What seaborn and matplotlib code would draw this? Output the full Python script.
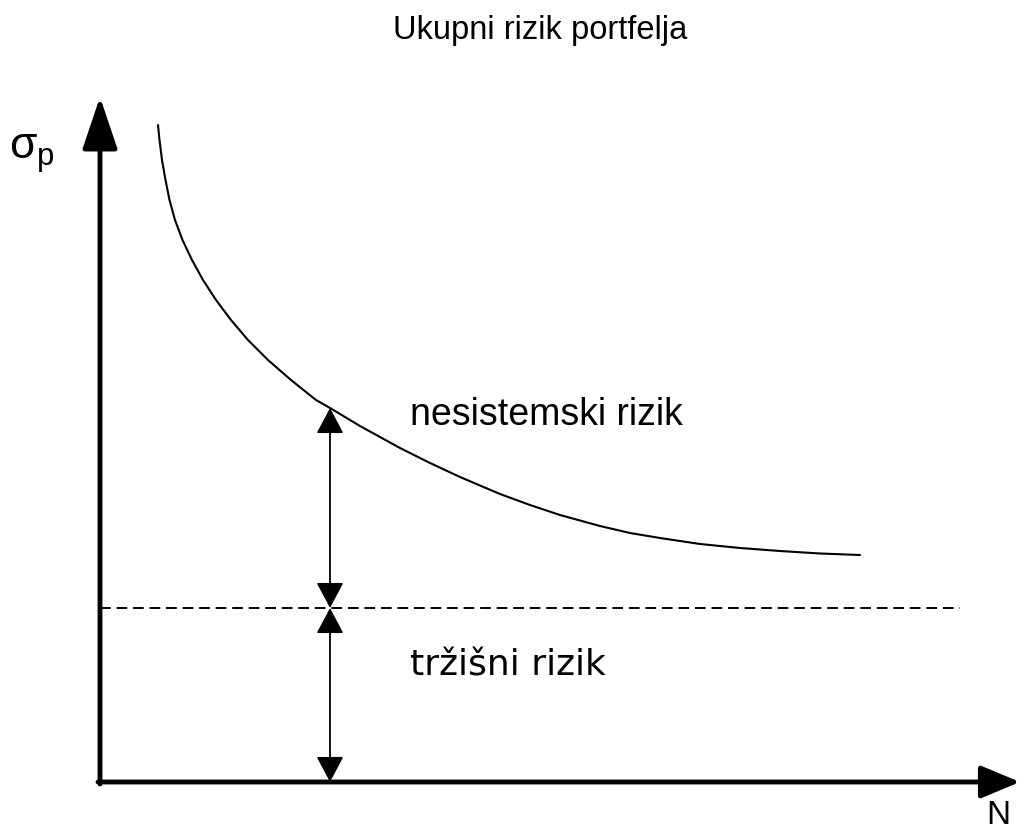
import matplotlib
matplotlib.use("Agg")
import matplotlib.pyplot as plt
import seaborn as sns
import pandas as pd

# krivulja ukupnog rizika (N, sigma_p) - ocitano sa slike
curve_n = [58, 59.5, 62, 65.5, 69.5, 75, 82.5, 92, 103, 116, 131, 148, 168, 191, 216, 230,
           260, 280, 300, 330, 360, 400, 430, 460, 500, 530, 560, 600, 640, 680, 720, 760]
curve_sigma = [657, 642, 622, 602, 582, 562, 542, 522, 502, 482, 462, 442, 422, 402, 382, 374,
               356, 345, 334, 319, 305, 288, 277, 267, 256, 249, 244, 238, 234, 231, 228.5, 227]

# trzisni (sistemski) rizik - vodoravna crtkana linija
market_n = [0, 860]
market_sigma = [174, 174]

arrow_n = 230          # gdje su strelice
curve_at_arrow = 374   # sigma na krivulji kod strelice

title = "Ukupni rizik portfelja"
label_unsys = "nesistemski rizik"
label_sys = "tržišni rizik"

sns.set_style("white")
plt.rcParams['font.family'] = ['Liberation Sans', 'DejaVu Sans']
plt.rcParams['text.color'] = 'black'

fig = plt.figure(figsize=(10.22, 8.32), dpi=100)
ax = fig.add_axes([0, 0, 1, 1])
ax.set_xlim(-100, 922)
ax.set_ylim(-50, 782)
ax.axis('off')

df = pd.DataFrame({'N': curve_n, 'sigma': curve_sigma})
sns.lineplot(data=df, x='N', y='sigma', sort=False, color='black', lw=1.5, ax=ax)
sns.lineplot(x=market_n, y=market_sigma, color='black', lw=1.4, ax=ax, linestyle=(0, (5.5, 3)))

# osi sa strelicama
ax.annotate('', xy=(0, 685), xytext=(0, -2),
            arrowprops=dict(arrowstyle='-|>,head_length=3.2,head_width=1.08', mutation_scale=10,
                            lw=3.5, color='black', shrinkA=0, shrinkB=0))
ax.annotate('', xy=(920, 0), xytext=(-2, 0),
            arrowprops=dict(arrowstyle='-|>,head_length=2.4,head_width=1.0', mutation_scale=10,
                            lw=3.5, color='black', shrinkA=0, shrinkB=0))

# dvostruke strelice
for y0, y1 in [(market_sigma[0], curve_at_arrow), (0, market_sigma[0])]:
    ax.annotate('', xy=(arrow_n, y1), xytext=(arrow_n, y0),
                arrowprops=dict(arrowstyle='<|-|>,head_length=1.6,head_width=0.85', mutation_scale=10,
                                lw=1.3, color='black', shrinkA=0, shrinkB=0))

ax.text(440, 752, title, ha='center', va='center', fontsize=23.5)
ax.text(310, 367, label_unsys, ha='left', va='center', fontsize=27)
ax.text(310, 117, label_sys, ha='left', va='center', fontsize=26, family=['DejaVu Sans'])
ax.text(-68, 628, r'$\mathregular{\sigma_p}$', ha='center', va='center', fontsize=32)
ax.text(898, -18, 'N', ha='center', va='top', fontsize=24)

fig.savefig('out.png', dpi=100)
